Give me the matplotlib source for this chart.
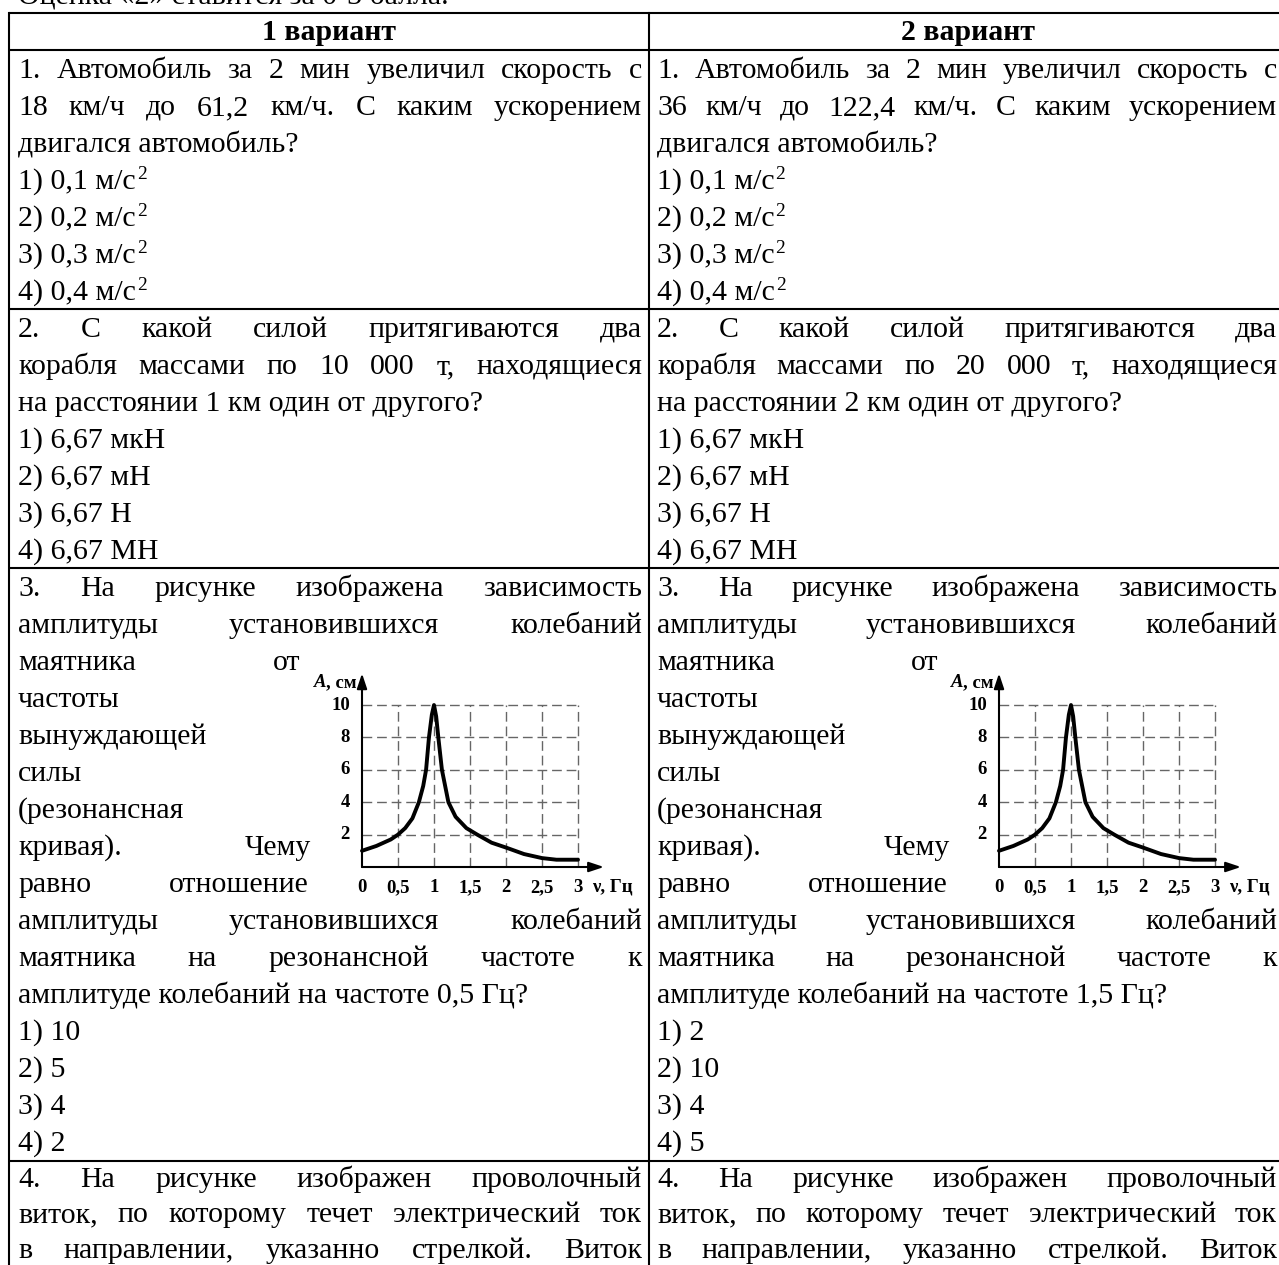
import matplotlib
matplotlib.use("Agg")
import matplotlib.pyplot as plt
from matplotlib.font_manager import FontProperties

# ---------------- data ----------------
note_text = "Оценка «2» ставится за 0-3 балла."
headers = ["1 вариант", "2 вариант"]

# (text, mode): J = justified full width, n = justified beside chart, N = left, S = with superscript "2"
rows_left = [
    [("1. Автомобиль за 2 мин увеличил скорость с", "J"),
     ("18 км/ч до 61,2 км/ч. С каким ускорением", "J"),
     ("двигался автомобиль?", "N"),
     ("1) 0,1 м/с", "S"), ("2) 0,2 м/с", "S"), ("3) 0,3 м/с", "S"), ("4) 0,4 м/с", "S")],
    [("2. С какой силой притягиваются два", "J"),
     ("корабля массами по 10 000 т, находящиеся", "J"),
     ("на расстоянии 1 км один от другого?", "N"),
     ("1) 6,67 мкН", "N"), ("2) 6,67 мН", "N"), ("3) 6,67 Н", "N"), ("4) 6,67 МН", "N")],
    [("3. На рисунке изображена зависимость", "J"),
     ("амплитуды установившихся колебаний", "J"),
     ("маятника от", "n"),
     ("частоты", "N"), ("вынуждающей", "N"), ("силы", "N"), ("(резонансная", "N"),
     ("кривая). Чему", "n"),
     ("равно отношение", "n"),
     ("амплитуды установившихся колебаний", "J"),
     ("маятника на резонансной частоте к", "J"),
     ("амплитуде колебаний на частоте 0,5 Гц?", "N"),
     ("1) 10", "N"), ("2) 5", "N"), ("3) 4", "N"), ("4) 2", "N")],
    [("4. На рисунке изображен проволочный", "J"),
     ("виток, по которому течет электрический ток", "J"),
     ("в направлении, указанно стрелкой. Виток", "J")],
]

rows_right = [
    [("1. Автомобиль за 2 мин увеличил скорость с", "J"),
     ("36 км/ч до 122,4 км/ч. С каким ускорением", "J"),
     ("двигался автомобиль?", "N"),
     ("1) 0,1 м/с", "S"), ("2) 0,2 м/с", "S"), ("3) 0,3 м/с", "S"), ("4) 0,4 м/с", "S")],
    [("2. С какой силой притягиваются два", "J"),
     ("корабля массами по 20 000 т, находящиеся", "J"),
     ("на расстоянии 2 км один от другого?", "N"),
     ("1) 6,67 мкН", "N"), ("2) 6,67 мН", "N"), ("3) 6,67 Н", "N"), ("4) 6,67 МН", "N")],
    [("3. На рисунке изображена зависимость", "J"),
     ("амплитуды установившихся колебаний", "J"),
     ("маятника от", "n"),
     ("частоты", "N"), ("вынуждающей", "N"), ("силы", "N"), ("(резонансная", "N"),
     ("кривая). Чему", "n"),
     ("равно отношение", "n"),
     ("амплитуды установившихся колебаний", "J"),
     ("маятника на резонансной частоте к", "J"),
     ("амплитуде колебаний на частоте 1,5 Гц?", "N"),
     ("1) 2", "N"), ("2) 10", "N"), ("3) 4", "N"), ("4) 5", "N")],
    [("4. На рисунке изображен проволочный", "J"),
     ("виток, по которому течет электрический ток", "J"),
     ("в направлении, указанно стрелкой. Виток", "J")],
]

# resonance curve (frequency in Hz, amplitude in cm)
nu_values = [0, 0.2, 0.4, 0.5, 0.6, 0.7, 0.79, 0.85, 0.89, 0.93, 0.97, 1.0,
             1.03, 1.06, 1.11, 1.2, 1.3, 1.45, 1.6, 1.8, 2.0, 2.25, 2.5, 2.7, 3.0]
amp_values = [1.0, 1.3, 1.7, 2.0, 2.4, 3.0, 4.0, 5.0, 6.0, 8.0, 9.4, 10.0,
              9.3, 8.0, 6.0, 4.0, 3.1, 2.4, 2.0, 1.5, 1.2, 0.8, 0.55, 0.45, 0.45]
x_ticks = [0, 0.5, 1, 1.5, 2, 2.5, 3]
x_tick_labels = ["0", "0,5", "1", "1,5", "2", "2,5", "3"]
y_ticks = [2, 4, 6, 8, 10]
y_tick_labels = ["2", "4", "6", "8", "10"]
y_axis_label = ("A", ", см")
x_axis_label = "ν, Гц"

# ---------------- layout ----------------
W, H, DPI = 1279, 1265, 100
fig = plt.figure(figsize=(W / DPI, H / DPI), dpi=DPI)
ax = fig.add_axes([0, 0, 1, 1])
ax.set_xlim(0, W)
ax.set_ylim(H, 0)
ax.axis("off")
renderer = fig.canvas.get_renderer()

FS = 21.5
fp = FontProperties(family="Liberation Serif", size=FS)
fpb = FontProperties(family="Liberation Serif", size=FS, weight="bold")
fps = FontProperties(family="Liberation Serif", size=FS * 0.65)

L = 37.0
BASE = 28.0
row_L = [37.0, 37.0, 37.0, 35.5]
row_base = [28.0, 28.0, 28.0, 26.0]
table_top, header_bottom = 13, 50
row_tops = [50, 309, 568, 1161]
x_left, x_mid, x_right = 9, 649, 1287
cols = [dict(x0=18, x1=642, xn=[300, 311, 309], hc=(x_left + x_mid) / 2, rows=rows_left),
        dict(x0=657, x1=1277, xn=[938, 950, 948], hc=(x_mid + x_right) / 2, rows=rows_right)]


def tw(s, prop):
    w, h, d = renderer.get_text_width_height_descent(s, prop, ismath=False)
    return w


def draw_line(s, x0, x1, y, justify):
    if not justify or len(s.split()) < 2:
        ax.text(x0, y, s, fontproperties=fp, va="baseline", ha="left", color="black")
        return
    words = s.split()
    widths = [tw(w, fp) for w in words]
    gap = (x1 - x0 - sum(widths)) / (len(words) - 1)
    x = x0
    for w, wd in zip(words, widths):
        ax.text(x, y, w, fontproperties=fp, va="baseline", ha="left", color="black")
        x += wd + gap


# note above table (cut by the top edge, as in the scan)
ax.text(18, 5, note_text, fontproperties=fp, va="baseline", ha="left")

# table lines
lw_t = 1.5
for y in [table_top, header_bottom] + row_tops[1:]:
    ax.plot([x_left, x_right], [y, y], color="black", lw=lw_t, solid_capstyle="butt")
for xv in (x_left, x_mid, x_right):
    ax.plot([xv, xv], [table_top, H + 5], color="black", lw=lw_t)

for c, head in zip(cols, headers):
    ax.text(c["hc"], table_top + BASE - 1, head, fontproperties=fpb, va="baseline", ha="center")
    for r, row in enumerate(c["rows"]):
        narrow_i = 0
        for k, (s, mode) in enumerate(row):
            y = row_tops[r] + k * row_L[r] + row_base[r]
            if mode == "J":
                draw_line(s, c["x0"], c["x1"], y, True)
            elif mode == "n":
                draw_line(s, c["x0"], c["xn"][narrow_i], y, True)
                narrow_i += 1
            elif mode == "S":
                draw_line(s, c["x0"], c["x1"], y, False)
                ax.text(c["x0"] + tw(s, fp) + 1, y - 10, "2", fontproperties=fps,
                        va="baseline", ha="left")
            else:
                draw_line(s, c["x0"], c["x1"], y, False)

# ---------------- charts ----------------
XU, YU = 72.0, 16.2
tick_fp = FontProperties(family="Liberation Serif", size=13.5, weight="bold")
lab_fp = FontProperties(family="Liberation Serif", size=13.5, weight="bold")
lab_fpi = FontProperties(family="Liberation Serif", size=13.5, weight="bold", style="italic")

for ox in (362, 999):
    oy = 867
    bx0, bx1, by0, by1 = ox - 42, ox + 278, oy - 195, oy + 33
    cax = fig.add_axes([bx0 / W, (H - by1) / H, (bx1 - bx0) / W, (by1 - by0) / H])
    cax.set_xlim((bx0 - ox) / XU, (bx1 - ox) / XU)
    cax.set_ylim((oy - by1) / YU, (oy - by0) / YU)
    cax.axis("off")
    cax.patch.set_alpha(0)
    # grid
    for xv in x_ticks[1:]:
        cax.plot([xv, xv], [0, y_ticks[-1]], color="#666666", lw=1.0, ls=(0, (7, 3.5)))
    for yv in y_ticks:
        cax.plot([0, x_ticks[-1]], [yv, yv], color="#666666", lw=1.0, ls=(0, (7, 3.5)))
    # axes with arrows
    cax.annotate("", xy=(3.36, 0), xytext=(0, 0),
                 arrowprops=dict(arrowstyle="-|>,head_length=0.9,head_width=0.3",
                                 lw=1.5, color="black", shrinkA=0, shrinkB=0))
    cax.annotate("", xy=(0, 11.95), xytext=(0, 0),
                 arrowprops=dict(arrowstyle="-|>,head_length=0.9,head_width=0.3",
                                 lw=1.5, color="black", shrinkA=0, shrinkB=0))
    # curve
    cax.plot(nu_values, amp_values, color="black", lw=2.8, solid_joinstyle="round",
             solid_capstyle="round")
    # tick labels
    for xv, lab in zip(x_ticks, x_tick_labels):
        cax.text(xv, -1.25, lab, fontproperties=tick_fp, ha="center", va="center")
    for yv, lab in zip(y_ticks, y_tick_labels):
        cax.text(-0.17, yv, lab, fontproperties=tick_fp, ha="right", va="center")
    cax.text(3.19, -1.25, x_axis_label, fontproperties=lab_fp, ha="left", va="center")
    w_rest = tw(y_axis_label[1], lab_fp) / XU
    cax.text(-0.07, 11.4, y_axis_label[1], fontproperties=lab_fp, ha="right", va="center")
    cax.text(-0.07 - w_rest, 11.4, y_axis_label[0], fontproperties=lab_fpi, ha="right", va="center")

fig.savefig("out.png", dpi=DPI, facecolor="white")
